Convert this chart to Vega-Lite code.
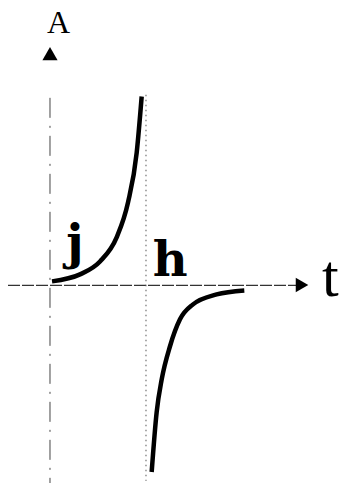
{
  "$schema": "https://vega.github.io/schema/vega-lite/v6.json",
  "width": 341,
  "height": 484,
  "padding": 0,
  "autosize": {"type": "fit", "contains": "padding"},
  "background": "white",
  "config": {"view": {"stroke": null}},
  "encoding": {
    "x": {"type": "quantitative", "scale": {"domain": [-0.52083, 3.03125], "nice": false, "zero": false}, "axis": null},
    "y": {"type": "quantitative", "scale": {"domain": [-2.0625, 2.97917], "nice": false, "zero": false}, "axis": null}
  },
  "layer": [
    {
      "data": {"values": [{"t": -0.4375, "t2": 2.5625, "A": 0}]},
      "mark": {"type": "rule", "color": "#333", "strokeWidth": 1.2, "strokeDash": [12, 2]},
      "encoding": {"x": {"field": "t"}, "x2": {"field": "t2"}, "y": {"field": "A"}}
    },
    {
      "data": {"values": [{"t": 0, "A": 1.958, "A2": -2.0625}]},
      "mark": {"type": "rule", "color": "#444", "strokeWidth": 1, "strokeDash": [20, 8, 2, 8]},
      "encoding": {"x": {"field": "t"}, "y": {"field": "A"}, "y2": {"field": "A2"}}
    },
    {
      "data": {"values": [{"t": 1, "A": 1.99, "A2": -2.04}]},
      "mark": {"type": "rule", "color": "#555", "strokeWidth": 1, "strokeDash": [1.5, 3.5]},
      "encoding": {"x": {"field": "t"}, "y": {"field": "A"}, "y2": {"field": "A2"}}
    },
    {
      "data": {"values": [{"t": 0, "A": 2.42}]},
      "mark": {"type": "point", "shape": "triangle-up", "filled": true, "color": "black", "size": 230, "opacity": 1},
      "encoding": {"x": {"field": "t"}, "y": {"field": "A"}}
    },
    {
      "data": {"values": [{"t": 2.625, "A": 0.005}]},
      "mark": {"type": "point", "shape": "triangle-right", "filled": true, "color": "black", "size": 210, "opacity": 1},
      "encoding": {"x": {"field": "t"}, "y": {"field": "A"}}
    },
    {
      "data": {"values": [
        {"t": 0.021, "A": 0.042},
        {"t": 0.3125, "A": 0.115},
        {"t": 0.521, "A": 0.25},
        {"t": 0.698, "A": 0.51},
        {"t": 0.8125, "A": 0.865},
        {"t": 0.903, "A": 1.385},
        {"t": 0.955, "A": 1.972}
      ]},
      "mark": {"type": "line", "color": "black", "strokeWidth": 4.5, "interpolate": "monotone", "strokeCap": "butt"},
      "encoding": {"x": {"field": "t"}, "y": {"field": "A"}}
    },
    {
      "data": {"values": [
        {"t": 1.059, "A": -1.948},
        {"t": 1.111, "A": -1.323},
        {"t": 1.164, "A": -0.979},
        {"t": 1.25, "A": -0.635},
        {"t": 1.354, "A": -0.354},
        {"t": 1.49, "A": -0.198},
        {"t": 1.736, "A": -0.094},
        {"t": 2.024, "A": -0.052}
      ]},
      "mark": {"type": "line", "color": "black", "strokeWidth": 4.5, "interpolate": "monotone", "strokeCap": "butt"},
      "encoding": {"x": {"field": "t"}, "y": {"field": "A"}}
    },
    {
      "data": {"values": [{"t": -0.031, "A": 2.635, "label": "A"}]},
      "mark": {"type": "text", "font": "Liberation Serif", "fontSize": 32, "align": "left", "baseline": "alphabetic", "color": "black"},
      "encoding": {"x": {"field": "t"}, "y": {"field": "A"}, "text": {"field": "label"}}
    },
    {
      "data": {"values": [{"t": 2.833, "A": -0.115, "label": "t"}]},
      "mark": {"type": "text", "font": "Liberation Serif", "fontSize": 60, "align": "left", "baseline": "alphabetic", "color": "black"},
      "encoding": {"x": {"field": "t"}, "y": {"field": "A"}, "text": {"field": "label"}}
    },
    {
      "data": {"values": [{"t": 0.17, "A": 0.271, "label": "j"}, {"t": 1.07, "A": 0.094, "label": "h"}]},
      "mark": {"type": "text", "font": "DejaVu Serif", "fontWeight": "bold", "fontSize": 48, "align": "left", "baseline": "alphabetic", "color": "black"},
      "encoding": {"x": {"field": "t"}, "y": {"field": "A"}, "text": {"field": "label"}}
    }
  ]
}
